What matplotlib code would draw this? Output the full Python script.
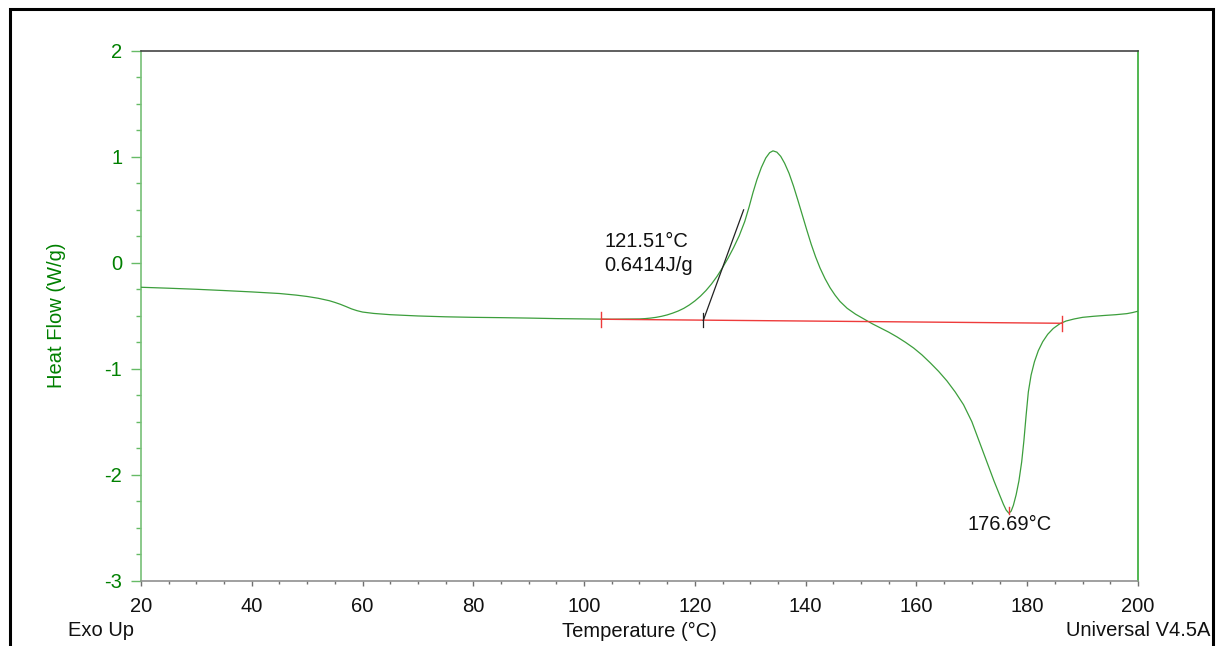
import matplotlib
matplotlib.use("Agg")
import matplotlib.pyplot as plt
from matplotlib.patches import Rectangle
from matplotlib.ticker import MultipleLocator

plt.rcParams['font.family'] = ['Liberation Sans', 'DejaVu Sans']
plt.rcParams['axes.unicode_minus'] = False

# ---- data ----
temperature = [20, 25, 30, 35, 40, 45, 48, 50, 52, 54, 55, 56, 57, 58, 59, 60, 62, 65, 70, 75, 80,
               85, 90, 95, 100, 105, 110, 111, 112, 113, 114, 115, 116, 117, 118, 119, 120,
               121, 122, 123, 124, 125, 126, 127, 128, 129, 129.8, 130.5, 131.2, 132, 132.8,
               133.5, 134.1, 134.8, 135.5, 136.2, 137, 137.8, 138.6, 139.4, 140.2, 141, 141.8,
               142.6, 143.5, 144.4, 145.3, 146.2, 147.5, 149, 150.5, 152, 153.5, 155, 156.5,
               158, 159.5, 161, 162.5, 164, 165.5, 167, 168.5, 170, 171, 172, 173, 174, 175,
               175.7, 176.2, 176.69, 177.1, 177.5, 178, 178.5, 179, 179.4, 179.8, 180.2,
               180.7, 181.3, 182, 182.8, 183.7, 184.7, 185.9, 187, 188.5, 190, 192, 194, 196,
               198, 199, 200]
heat_flow = [-0.231, -0.240, -0.250, -0.262, -0.275, -0.290, -0.305, -0.318, -0.335, -0.358,
             -0.374, -0.392, -0.413, -0.435, -0.452, -0.465, -0.478, -0.490, -0.502, -0.510,
             -0.515, -0.518, -0.522, -0.527, -0.530, -0.533, -0.530, -0.527, -0.522, -0.515,
             -0.505, -0.492, -0.475, -0.455, -0.430, -0.398, -0.360, -0.315, -0.262, -0.200,
             -0.128, -0.045, 0.045, 0.145, 0.255, 0.390, 0.530, 0.665, 0.785, 0.900, 0.990,
             1.040, 1.057, 1.045, 1.005, 0.940, 0.845, 0.725, 0.590, 0.450, 0.310, 0.175,
             0.055, -0.050, -0.150, -0.235, -0.305, -0.365, -0.430, -0.485, -0.530, -0.575,
             -0.615, -0.655, -0.700, -0.750, -0.805, -0.870, -0.945, -1.025, -1.115, -1.220,
             -1.340, -1.500, -1.640, -1.780, -1.920, -2.060, -2.190, -2.280, -2.335, -2.365,
             -2.345, -2.290, -2.190, -2.060, -1.880, -1.680, -1.440, -1.220, -1.060, -0.935,
             -0.830, -0.745, -0.675, -0.620, -0.575, -0.550, -0.530, -0.515, -0.505, -0.497,
             -0.490, -0.480, -0.470, -0.457]

baseline_T = [103.1, 186.3]
baseline_HF = [-0.533, -0.571]
onset_T = 121.51
onset_HF = -0.545
tangent_T = [121.51, 128.8]
tangent_HF = [-0.545, 0.50]
onset_label = ["121.51°C", "0.6414J/g"]
peak_T = 176.69
peak_HF = -2.365
peak_label = "176.69°C"

x_ticks = [20, 40, 60, 80, 100, 120, 140, 160, 180, 200]
y_ticks = [-3, -2, -1, 0, 1, 2]

# ---- figure ----
W, H = 1218, 646
fig = plt.figure(figsize=(W / 100, H / 100), dpi=100)
ax = fig.add_axes([141 / W, 1 - 580.5 / H, (1138 - 141) / W, (580.5 - 51) / H])

green_line = '#3c9e3c'
dark_green = '#008000'

ax.plot(temperature, heat_flow, color=green_line, lw=0.9, zorder=3)
ax.plot(baseline_T, baseline_HF, color='#ee3b3b', lw=1.0, zorder=4)
for t, h in zip(baseline_T, baseline_HF):
    ax.plot([t, t], [h + 0.07, h - 0.07], color='#ee3b3b', lw=1.0, zorder=4)
ax.plot(tangent_T, tangent_HF, color='#222222', lw=0.9, zorder=5)
ax.plot([onset_T, onset_T], [onset_HF + 0.075, onset_HF - 0.065], color='#222222', lw=0.9, zorder=5)
ax.text(103.6, 0.204, onset_label[0], fontsize=14.5, ha='left', va='center', color='#111111')
ax.text(103.6, -0.023, onset_label[1], fontsize=14.5, ha='left', va='center', color='#111111')
ax.plot([peak_T, peak_T], [peak_HF + 0.06, peak_HF - 0.01], color='#ee3b3b', lw=1.0, zorder=5)
ax.text(176.9, -2.47, peak_label, fontsize=14.5, ha='center', va='center', color='#111111')

ax.set_xlim(20, 200)
ax.set_ylim(-3, 2)
ax.set_xticks(x_ticks)
ax.set_yticks(y_ticks)
ax.xaxis.set_minor_locator(MultipleLocator(5))
ax.yaxis.set_minor_locator(MultipleLocator(0.25))

ax.tick_params(axis='x', which='major', direction='out', length=3.6, width=1.0,
               color='#707070', labelsize=14.5, labelcolor='#111111', pad=8)
ax.tick_params(axis='x', which='minor', direction='out', length=2.5, width=1.0, color='#707070')
ax.tick_params(axis='y', which='major', direction='out', length=7, width=1.0,
               color='#66bb66', labelsize=14.5, labelcolor=dark_green, pad=6.5)
ax.tick_params(axis='y', which='minor', direction='out', length=3.5, width=1.0, color='#66bb66')

ax.spines['left'].set_color('#77c077')
ax.spines['right'].set_color('#33aa33')
ax.spines['top'].set_color('#444444')
ax.spines['bottom'].set_color('#909090')
for s in ax.spines.values():
    s.set_linewidth(1.2)

ax.set_ylabel("Heat Flow (W/g)", fontsize=14.5, color=dark_green)
ax.yaxis.set_label_coords((66 - 141) / (1138 - 141), 0.5)

fig.text(639.5 / W, 1 - 631 / H, "Temperature (°C)", fontsize=14.5, ha='center', va='center', color='#111111')
fig.text(68 / W, 1 - 631 / H, "Exo Up", fontsize=14.5, ha='left', va='center', color='#111111')
fig.text(1210 / W, 1 - 631 / H, "Universal V4.5A", fontsize=14.5, ha='right', va='center', color='#111111')

fig.patches.append(Rectangle((9.5 / W, -0.05), (1212.5 - 9.5) / W, 1 - 9.5 / H + 0.05,
                             transform=fig.transFigure, fill=False, edgecolor='black', lw=2.2))

fig.savefig("out.png", dpi=100, facecolor='white')
